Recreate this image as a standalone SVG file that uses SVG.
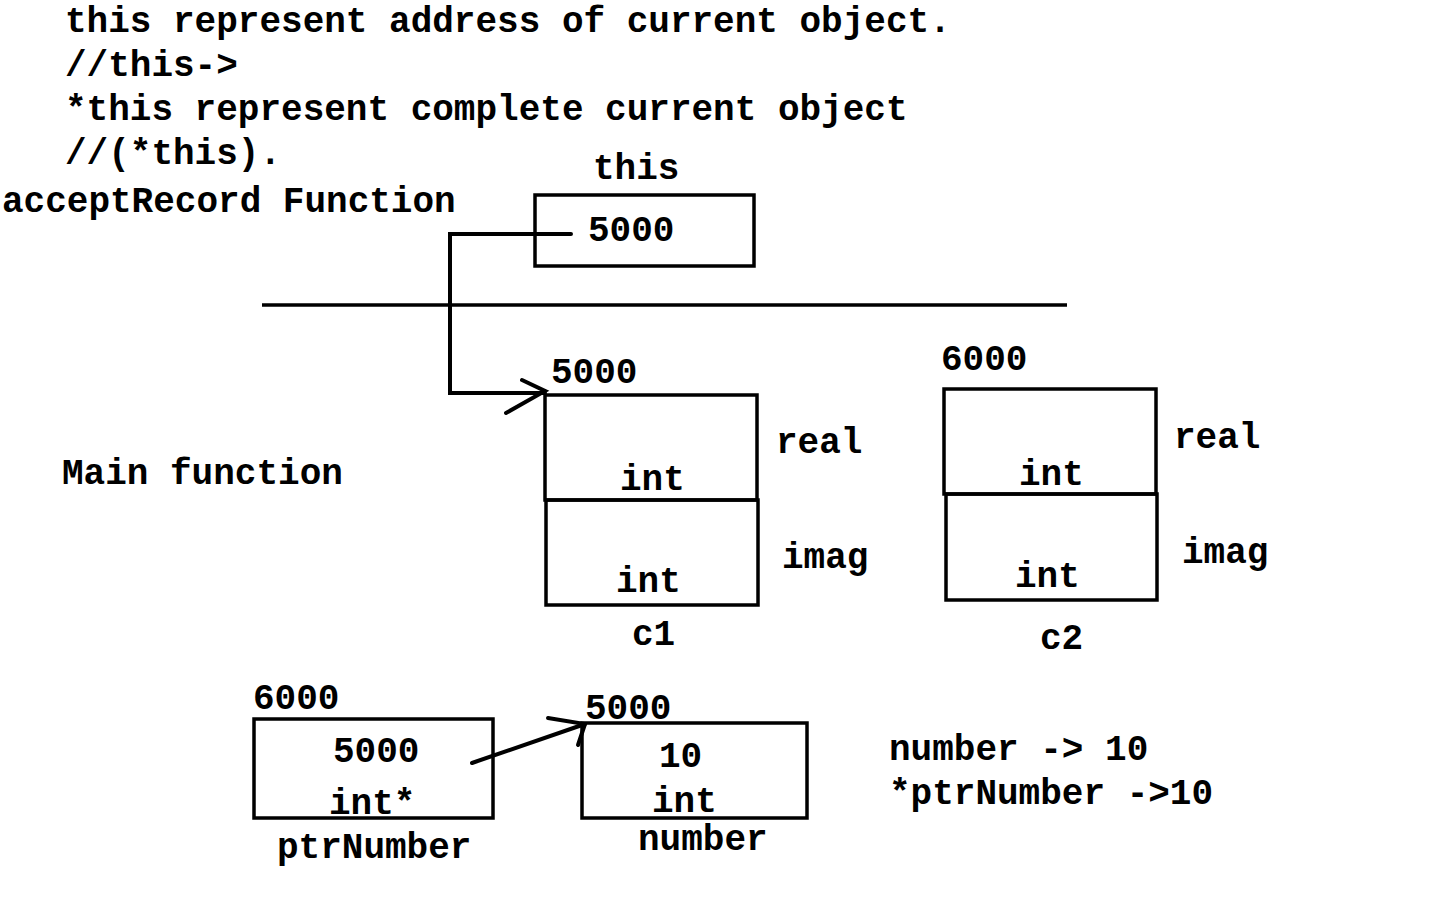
<svg xmlns="http://www.w3.org/2000/svg" width="1440" height="900" viewBox="0 0 1440 900">
<style>
text{font-family:"Liberation Mono","Courier New",monospace;font-weight:bold;font-size:36px;fill:#000}
.b{fill:none;stroke:#000;stroke-width:3.5}
.c{fill:none;stroke:#000;stroke-width:4;stroke-linecap:round;stroke-linejoin:miter}
</style>
<rect width="1440" height="900" fill="#fff"/>
<g id="notes">
<text x="65" y="32">this represent address of current object.</text>
<text x="65" y="76">//this-&gt;</text>
<text x="65" y="120">*this represent complete current object</text>
<text x="65" y="164">//(*this).</text>
<text x="2" y="212">acceptRecord Function</text>
<text x="62" y="484">Main function</text>
<text x="889" y="760">number -&gt; 10</text>
<text x="889" y="804">*ptrNumber -&gt;10</text>
</g>
<line class="b" x1="262" y1="305" x2="1067" y2="305"/>
<g id="this">
<text x="593" y="179">this</text>
<rect class="b" x="535" y="195" width="219" height="71"/>
<text x="588" y="241">5000</text>
</g>
<g id="c1">
<text x="551" y="383">5000</text>
<rect class="b" x="545" y="395" width="212" height="105"/>
<rect class="b" x="546" y="500" width="212" height="105"/>
<text x="620" y="490">int</text>
<text x="616" y="592">int</text>
<text x="776" y="453">real</text>
<text x="782" y="568">imag</text>
<text x="632" y="645">c1</text>
</g>
<g id="c2">
<text x="941" y="370">6000</text>
<rect class="b" x="944" y="389" width="212" height="105"/>
<rect class="b" x="946" y="494" width="211" height="106"/>
<text x="1019" y="485">int</text>
<text x="1015" y="587">int</text>
<text x="1174" y="448">real</text>
<text x="1182" y="563">imag</text>
<text x="1040" y="649">c2</text>
</g>
<g id="ptrNumber">
<text x="253" y="709">6000</text>
<rect class="b" x="254" y="719" width="239" height="99"/>
<text x="333" y="762">5000</text>
<text x="329" y="814">int*</text>
<text x="277" y="858">ptrNumber</text>
</g>
<g id="number">
<text x="585" y="719">5000</text>
<rect class="b" x="582" y="723" width="225" height="95"/>
<text x="659" y="767">10</text>
<text x="652" y="812">int</text>
<text x="638" y="850">number</text>
</g>
<g id="connectors">
<polyline class="c" points="571,234 450,234 450,393 545,393"/>
<polyline class="c" points="522,380 545,391 506,413"/>
<line class="c" x1="472" y1="763" x2="585" y2="724"/>
<polyline class="c" points="548,718 585,724 578,745"/>
</g>
</svg>
